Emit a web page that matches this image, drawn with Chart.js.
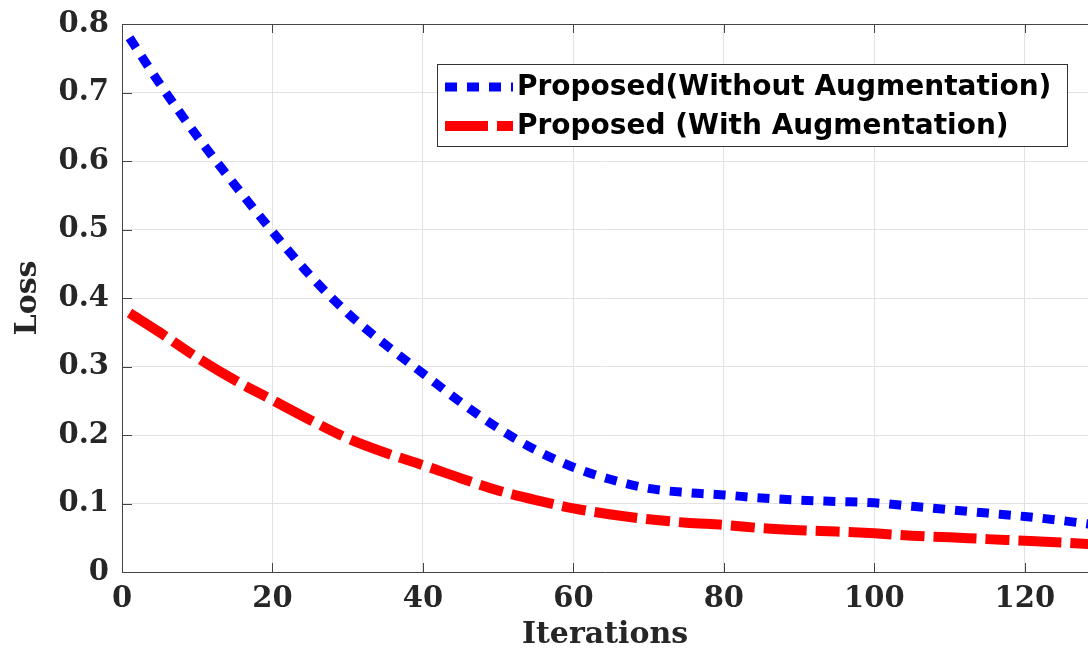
<!DOCTYPE html>
<html>
<head>
<meta charset="utf-8">
<script src="https://cdn.jsdelivr.net/npm/chart.js@4"></script>
<style>
  html, body { margin: 0; padding: 0; background: #fff; }
  #wrap { width: 1088px; height: 648px; }
</style>
</head>
<body>
<div id="wrap"><canvas id="lossChart" width="1088" height="648"></canvas></div>
<script>
// values
const iterations = [1, 5, 10, 15, 20, 25, 30, 35, 40, 45, 50, 55, 60, 65, 70, 75, 80, 85, 90, 95, 100, 105, 110, 115, 120, 125, 130];
const lossWithout = [0.78, 0.713, 0.636, 0.565, 0.497, 0.433, 0.378, 0.332, 0.29, 0.248, 0.21, 0.178, 0.153, 0.135, 0.122, 0.116, 0.1125, 0.108, 0.105, 0.103, 0.101, 0.096, 0.091, 0.086, 0.081, 0.075, 0.068];
const lossWith = [0.378, 0.35, 0.313, 0.28, 0.251, 0.222, 0.195, 0.174, 0.156, 0.137, 0.119, 0.105, 0.093, 0.084, 0.077, 0.072, 0.0687, 0.064, 0.061, 0.059, 0.0565, 0.053, 0.0507, 0.048, 0.0457, 0.043, 0.040];
const seriesLabels = ['Proposed(Without Augmentation)', 'Proposed (With Augmentation)'];
const xTitle = 'Iterations';
const yTitle = 'Loss';

const tickFont = { family: '"DejaVu Serif", serif', weight: 'bold', size: 29 };
const titleFont = { family: '"DejaVu Serif", serif', weight: 'bold', size: 30 };
const textColor = '#262626';

// MATLAB style box, inward ticks and legend
const matlabBox = {
  id: 'matlabBox',
  afterDatasetsDraw(chart) {
    const ctx = chart.ctx;
    const a = chart.chartArea;
    const xs = chart.scales.x, ys = chart.scales.y;
    ctx.save();
    ctx.strokeStyle = '#444';
    ctx.lineWidth = 1;
    ctx.beginPath();
    ctx.moveTo(a.left, a.top + 0.5);
    ctx.lineTo(a.right, a.top + 0.5);
    xs.ticks.forEach(t => {
      const px = Math.round(xs.getPixelForValue(t.value)) + 0.5;
      ctx.moveTo(px, a.bottom); ctx.lineTo(px, a.bottom - 9);
      ctx.moveTo(px, a.top); ctx.lineTo(px, a.top + 9);
    });
    ys.ticks.forEach(t => {
      const py = Math.round(ys.getPixelForValue(t.value)) + 0.5;
      ctx.moveTo(a.left, py); ctx.lineTo(a.left + 10, py);
    });
    ctx.stroke();

    // legend box
    const lx = 437, ly = 64, lw = 630, lh = 82;
    ctx.fillStyle = '#fff';
    ctx.fillRect(lx, ly, lw, lh);
    ctx.strokeStyle = '#333';
    ctx.strokeRect(lx + 0.5, ly + 0.5, lw, lh);
    const rows = [87, 126];
    chart.data.datasets.forEach((ds, i) => {
      ctx.save();
      ctx.beginPath();
      ctx.rect(lx + 6, rows[i] - 10, 70, 20);
      ctx.clip();
      ctx.strokeStyle = ds.borderColor;
      ctx.lineWidth = ds.borderWidth;
      ctx.setLineDash(ds.borderDash);
      ctx.beginPath();
      ctx.moveTo(445, rows[i]);
      ctx.lineTo(513, rows[i]);
      ctx.stroke();
      ctx.restore();
      ctx.fillStyle = '#000';
      ctx.font = 'bold 28px "DejaVu Sans", sans-serif';
      ctx.textBaseline = 'middle';
      ctx.fillText(ds.label, 517, rows[i] + 1);
    });
    ctx.restore();
  }
};

new Chart(document.getElementById('lossChart'), {
  type: 'line',
  data: {
    datasets: [{
      label: seriesLabels[0],
      data: iterations.map((x, i) => ({ x: x, y: lossWithout[i] })),
      borderColor: '#0000ff',
      borderWidth: 9,
      borderDash: [12, 10],
      borderCapStyle: 'butt',
      pointRadius: 0,
      cubicInterpolationMode: 'monotone',
      fill: false
    }, {
      label: seriesLabels[1],
      data: iterations.map((x, i) => ({ x: x, y: lossWith[i] })),
      borderColor: '#ff0000',
      borderWidth: 10,
      borderDash: [43, 9, 24, 9],
      borderCapStyle: 'butt',
      pointRadius: 0,
      cubicInterpolationMode: 'monotone',
      fill: false
    }]
  },
  options: {
    responsive: false,
    animation: false,
    layout: { padding: { top: 24, right: 0, left: 0, bottom: 0 } },
    plugins: { legend: { display: false }, tooltip: { enabled: false } },
    scales: {
      x: {
        type: 'linear',
        min: 0,
        max: 128.4,
        ticks: { stepSize: 20, includeBounds: false, font: tickFont, color: textColor, padding: 10, maxRotation: 0 },
        grid: { color: '#e2e2e2', lineWidth: 1, tickLength: 0, drawTicks: false },
        border: { display: true, color: '#444', width: 1 },
        title: { display: true, text: xTitle, font: titleFont, color: textColor, padding: { top: 0, bottom: -5 } },
        afterFit(scale) { scale.height = 76; scale.paddingRight = 0; }
      },
      y: {
        min: 0,
        max: 0.8,
        ticks: { stepSize: 0.1, font: tickFont, color: textColor, padding: 13,
          callback: v => v === 0 ? '0' : v.toFixed(1) },
        grid: { color: '#e2e2e2', lineWidth: 1, tickLength: 0, drawTicks: false },
        border: { display: true, color: '#444', width: 1 },
        title: { display: true, text: yTitle, font: titleFont, color: textColor, padding: { top: 10, bottom: 0 } },
        afterFit(scale) { scale.width = 122; scale.paddingTop = 0; scale.paddingBottom = 0; }
      }
    }
  },
  plugins: [matlabBox]
});
</script>
</body>
</html>
